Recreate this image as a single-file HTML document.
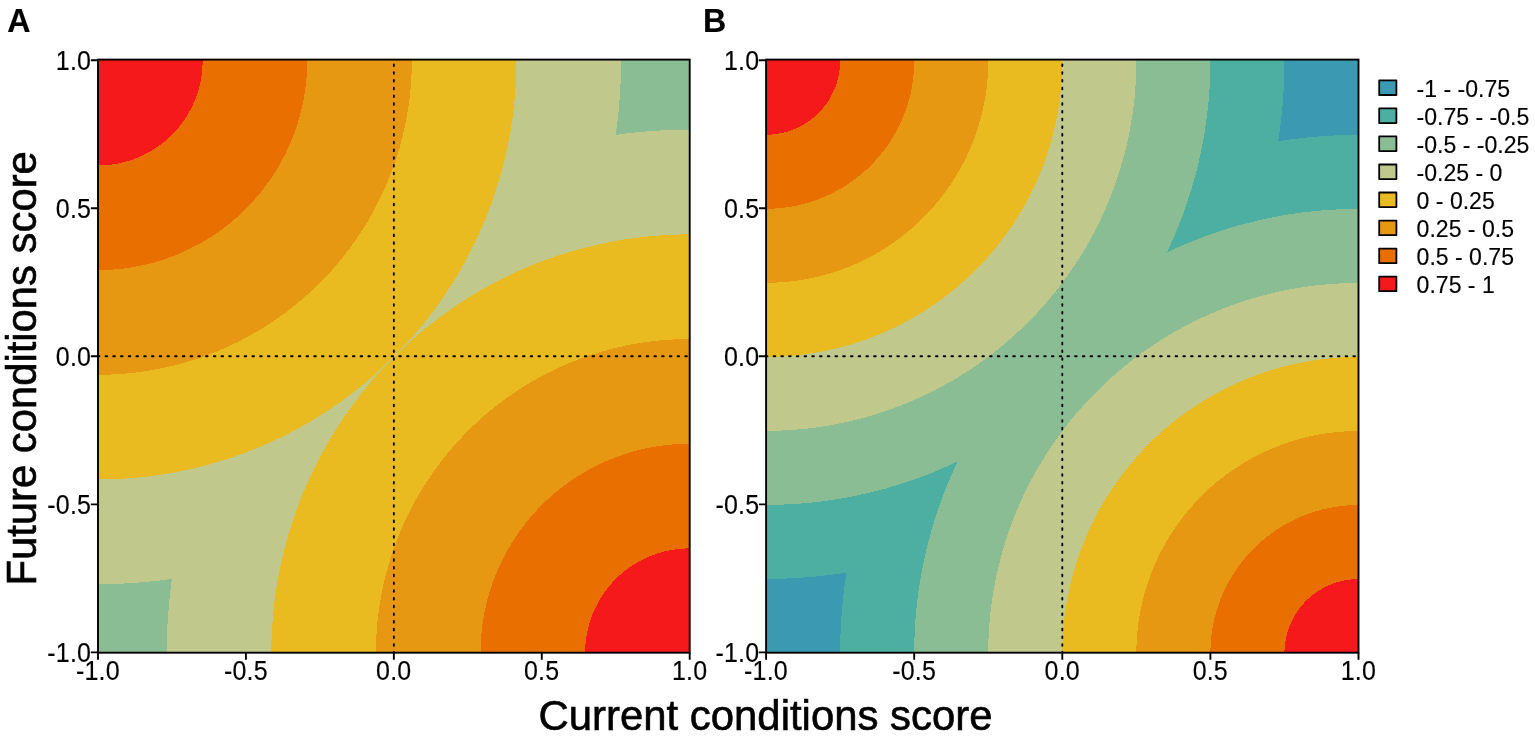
<!DOCTYPE html>
<html lang="en"><head><meta charset="utf-8"><title>Current vs future conditions score</title>
<style>html,body{margin:0;padding:0;background:#fff}body{width:1535px;height:736px;overflow:hidden}svg{display:block}text{font-family:"Liberation Sans",Arial,Helvetica,sans-serif;fill:#000;stroke:#000;stroke-width:0.15px}.t{font-size:25px;letter-spacing:0.2px}.l{font-size:41.9px;stroke-width:0.6px}.g{font-size:23.05px}.p{font-size:32.2px;font-weight:bold}.ax{stroke:#000;stroke-width:1.9;fill:none}.dot{stroke:#000;stroke-width:1.9;fill:none;stroke-dasharray:1.6 6.13;stroke-linecap:round}.sw{stroke:#000;stroke-width:1.8;stroke-linejoin:round}</style></head><body>
<svg width="1535" height="736" viewBox="0 0 1535 736" role="img" aria-label="Contour plots of current versus future conditions score">
<rect width="1535" height="736" fill="#fff"/>
<defs>
<radialGradient id="g1A" gradientUnits="userSpaceOnUse" cx="0" cy="0" r="3" gradientTransform="translate(98 60.7) scale(295.85 296.1)">
<stop offset="0.00000" stop-color="#F5191C"/><stop offset="0.11785" stop-color="#F5191C"/>
<stop offset="0.11785" stop-color="#E97000"/><stop offset="0.23570" stop-color="#E97000"/>
<stop offset="0.23570" stop-color="#E79812"/><stop offset="0.35355" stop-color="#E79812"/>
<stop offset="0.35355" stop-color="#EABA21"/><stop offset="0.47140" stop-color="#EABA21"/>
<stop offset="0.47140" stop-color="#C1C88C"/><stop offset="0.58926" stop-color="#C1C88C"/>
<stop offset="0.58926" stop-color="#8BBD94"/><stop offset="0.70711" stop-color="#8BBD94"/>
<stop offset="0.70711" stop-color="#4CAFA1"/><stop offset="0.82496" stop-color="#4CAFA1"/>
<stop offset="0.82496" stop-color="#3B99B1"/><stop offset="1.00000" stop-color="#3B99B1"/>
</radialGradient>
<radialGradient id="g2A" gradientUnits="userSpaceOnUse" cx="0" cy="0" r="3" gradientTransform="translate(689.7 653.1) scale(295.85 296.1)">
<stop offset="0.00000" stop-color="#F5191C"/><stop offset="0.11785" stop-color="#F5191C"/>
<stop offset="0.11785" stop-color="#E97000"/><stop offset="0.23570" stop-color="#E97000"/>
<stop offset="0.23570" stop-color="#E79812"/><stop offset="0.35355" stop-color="#E79812"/>
<stop offset="0.35355" stop-color="#EABA21"/><stop offset="0.47140" stop-color="#EABA21"/>
<stop offset="0.47140" stop-color="#C1C88C"/><stop offset="0.58926" stop-color="#C1C88C"/>
<stop offset="0.58926" stop-color="#8BBD94"/><stop offset="0.70711" stop-color="#8BBD94"/>
<stop offset="0.70711" stop-color="#4CAFA1"/><stop offset="0.82496" stop-color="#4CAFA1"/>
<stop offset="0.82496" stop-color="#3B99B1"/><stop offset="1.00000" stop-color="#3B99B1"/>
</radialGradient>
</defs>
<rect x="98" y="59.6" width="591.7" height="593.1" fill="url(#g1A)"/>
<path d="M98.4 652.7L689.7 60.7L689.7 652.7Z" fill="url(#g2A)"/>
<path d="M334.68 416.12L453.02 297.68" stroke="#C1C88C" stroke-width="1.1" fill="none"/>
<path class="dot" d="M98 356.3H689.7" stroke-dashoffset="0.2"/>
<path class="dot" d="M393.85 59.6V652.7" stroke-dashoffset="2.83"/>
<rect class="ax" x="98" y="59.6" width="591.7" height="593.1"/>
<path class="ax" d="M98 652.7v7.15M98 652.4h-7.15M245.93 652.7v7.15M98 504.35h-7.15M393.85 652.7v7.15M98 356.3h-7.15M541.78 652.7v7.15M98 208.25h-7.15M689.7 652.7v7.15M98 60.2h-7.15"/>
<text class="t" text-anchor="middle" transform="translate(97.9 680.1) scale(1 1.075)">-1.0</text>
<text class="t" text-anchor="end" transform="translate(91.2 662) scale(1 1.075)">-1.0</text>
<text class="t" text-anchor="middle" transform="translate(245.83 680.1) scale(1 1.075)">-0.5</text>
<text class="t" text-anchor="end" transform="translate(91.2 514.1) scale(1 1.075)">-0.5</text>
<text class="t" text-anchor="middle" transform="translate(393.75 680.1) scale(1 1.075)">0.0</text>
<text class="t" text-anchor="end" transform="translate(91.2 366.2) scale(1 1.075)">0.0</text>
<text class="t" text-anchor="middle" transform="translate(541.68 680.1) scale(1 1.075)">0.5</text>
<text class="t" text-anchor="end" transform="translate(91.2 218.3) scale(1 1.075)">0.5</text>
<text class="t" text-anchor="middle" transform="translate(689.6 680.1) scale(1 1.075)">1.0</text>
<text class="t" text-anchor="end" transform="translate(91.2 70.4) scale(1 1.075)">1.0</text>
<defs>
<radialGradient id="g1B" gradientUnits="userSpaceOnUse" cx="0" cy="0" r="3" gradientTransform="translate(766.1 60.7) scale(296.2 296.1)">
<stop offset="0.00000" stop-color="#F5191C"/><stop offset="0.08333" stop-color="#F5191C"/>
<stop offset="0.08333" stop-color="#E97000"/><stop offset="0.16667" stop-color="#E97000"/>
<stop offset="0.16667" stop-color="#E79812"/><stop offset="0.25000" stop-color="#E79812"/>
<stop offset="0.25000" stop-color="#EABA21"/><stop offset="0.33333" stop-color="#EABA21"/>
<stop offset="0.33333" stop-color="#C1C88C"/><stop offset="0.41667" stop-color="#C1C88C"/>
<stop offset="0.41667" stop-color="#8BBD94"/><stop offset="0.50000" stop-color="#8BBD94"/>
<stop offset="0.50000" stop-color="#4CAFA1"/><stop offset="0.58333" stop-color="#4CAFA1"/>
<stop offset="0.58333" stop-color="#3B99B1"/><stop offset="1.00000" stop-color="#3B99B1"/>
</radialGradient>
<radialGradient id="g2B" gradientUnits="userSpaceOnUse" cx="0" cy="0" r="3" gradientTransform="translate(1358.5 653.1) scale(296.2 296.1)">
<stop offset="0.00000" stop-color="#F5191C"/><stop offset="0.08333" stop-color="#F5191C"/>
<stop offset="0.08333" stop-color="#E97000"/><stop offset="0.16667" stop-color="#E97000"/>
<stop offset="0.16667" stop-color="#E79812"/><stop offset="0.25000" stop-color="#E79812"/>
<stop offset="0.25000" stop-color="#EABA21"/><stop offset="0.33333" stop-color="#EABA21"/>
<stop offset="0.33333" stop-color="#C1C88C"/><stop offset="0.41667" stop-color="#C1C88C"/>
<stop offset="0.41667" stop-color="#8BBD94"/><stop offset="0.50000" stop-color="#8BBD94"/>
<stop offset="0.50000" stop-color="#4CAFA1"/><stop offset="0.58333" stop-color="#4CAFA1"/>
<stop offset="0.58333" stop-color="#3B99B1"/><stop offset="1.00000" stop-color="#3B99B1"/>
</radialGradient>
</defs>
<rect x="766.1" y="59.6" width="592.4" height="593.1" fill="url(#g1B)"/>
<path d="M766.5 652.7L1358.5 60.7L1358.5 652.7Z" fill="url(#g2B)"/>
<path class="dot" d="M766.1 356.3H1358.5" stroke-dashoffset="0.2"/>
<path class="dot" d="M1062.3 59.6V652.7" stroke-dashoffset="2.83"/>
<rect class="ax" x="766.1" y="59.6" width="592.4" height="593.1"/>
<path class="ax" d="M766.1 652.7v7.15M766.1 652.4h-7.15M914.2 652.7v7.15M766.1 504.35h-7.15M1062.3 652.7v7.15M766.1 356.3h-7.15M1210.4 652.7v7.15M766.1 208.25h-7.15M1358.5 652.7v7.15M766.1 60.2h-7.15"/>
<text class="t" text-anchor="middle" transform="translate(766 680.1) scale(1 1.075)">-1.0</text>
<text class="t" text-anchor="end" transform="translate(759.3 662) scale(1 1.075)">-1.0</text>
<text class="t" text-anchor="middle" transform="translate(914.1 680.1) scale(1 1.075)">-0.5</text>
<text class="t" text-anchor="end" transform="translate(759.3 514.1) scale(1 1.075)">-0.5</text>
<text class="t" text-anchor="middle" transform="translate(1062.2 680.1) scale(1 1.075)">0.0</text>
<text class="t" text-anchor="end" transform="translate(759.3 366.2) scale(1 1.075)">0.0</text>
<text class="t" text-anchor="middle" transform="translate(1210.3 680.1) scale(1 1.075)">0.5</text>
<text class="t" text-anchor="end" transform="translate(759.3 218.3) scale(1 1.075)">0.5</text>
<text class="t" text-anchor="middle" transform="translate(1358.4 680.1) scale(1 1.075)">1.0</text>
<text class="t" text-anchor="end" transform="translate(759.3 70.4) scale(1 1.075)">1.0</text>
<text class="p" transform="translate(7.3 31.75) scale(1 1.02)">A</text>
<text class="p" transform="translate(702.9 31.75) scale(1 1.02)">B</text>
<text class="l" text-anchor="middle" x="765.5" y="730.0">Current conditions score</text>
<text class="l" style="font-size:41.8px" text-anchor="middle" transform="translate(36.2 368.4) rotate(-90)">Future conditions score</text>
<rect class="sw" x="1379.2" y="80.4" width="17.2" height="14.6" fill="#3B99B1"/>
<text class="g" x="1416.6" y="96.7">-1 - -0.75</text>
<rect class="sw" x="1379.2" y="108.43" width="17.2" height="14.6" fill="#4CAFA1"/>
<text class="g" x="1416.6" y="124.77">-0.75 - -0.5</text>
<rect class="sw" x="1379.2" y="136.46" width="17.2" height="14.6" fill="#8BBD94"/>
<text class="g" x="1416.6" y="152.84">-0.5 - -0.25</text>
<rect class="sw" x="1379.2" y="164.49" width="17.2" height="14.6" fill="#C1C88C"/>
<text class="g" x="1416.6" y="180.91">-0.25 - 0</text>
<rect class="sw" x="1379.2" y="192.52" width="17.2" height="14.6" fill="#EABA21"/>
<text class="g" x="1416.6" y="208.98">0 - 0.25</text>
<rect class="sw" x="1379.2" y="220.55" width="17.2" height="14.6" fill="#E79812"/>
<text class="g" x="1416.6" y="237.05">0.25 - 0.5</text>
<rect class="sw" x="1379.2" y="248.58" width="17.2" height="14.6" fill="#E97000"/>
<text class="g" x="1416.6" y="265.12">0.5 - 0.75</text>
<rect class="sw" x="1379.2" y="276.61" width="17.2" height="14.6" fill="#F5191C"/>
<text class="g" x="1416.6" y="293.19">0.75 - 1</text>
</svg></body></html>
